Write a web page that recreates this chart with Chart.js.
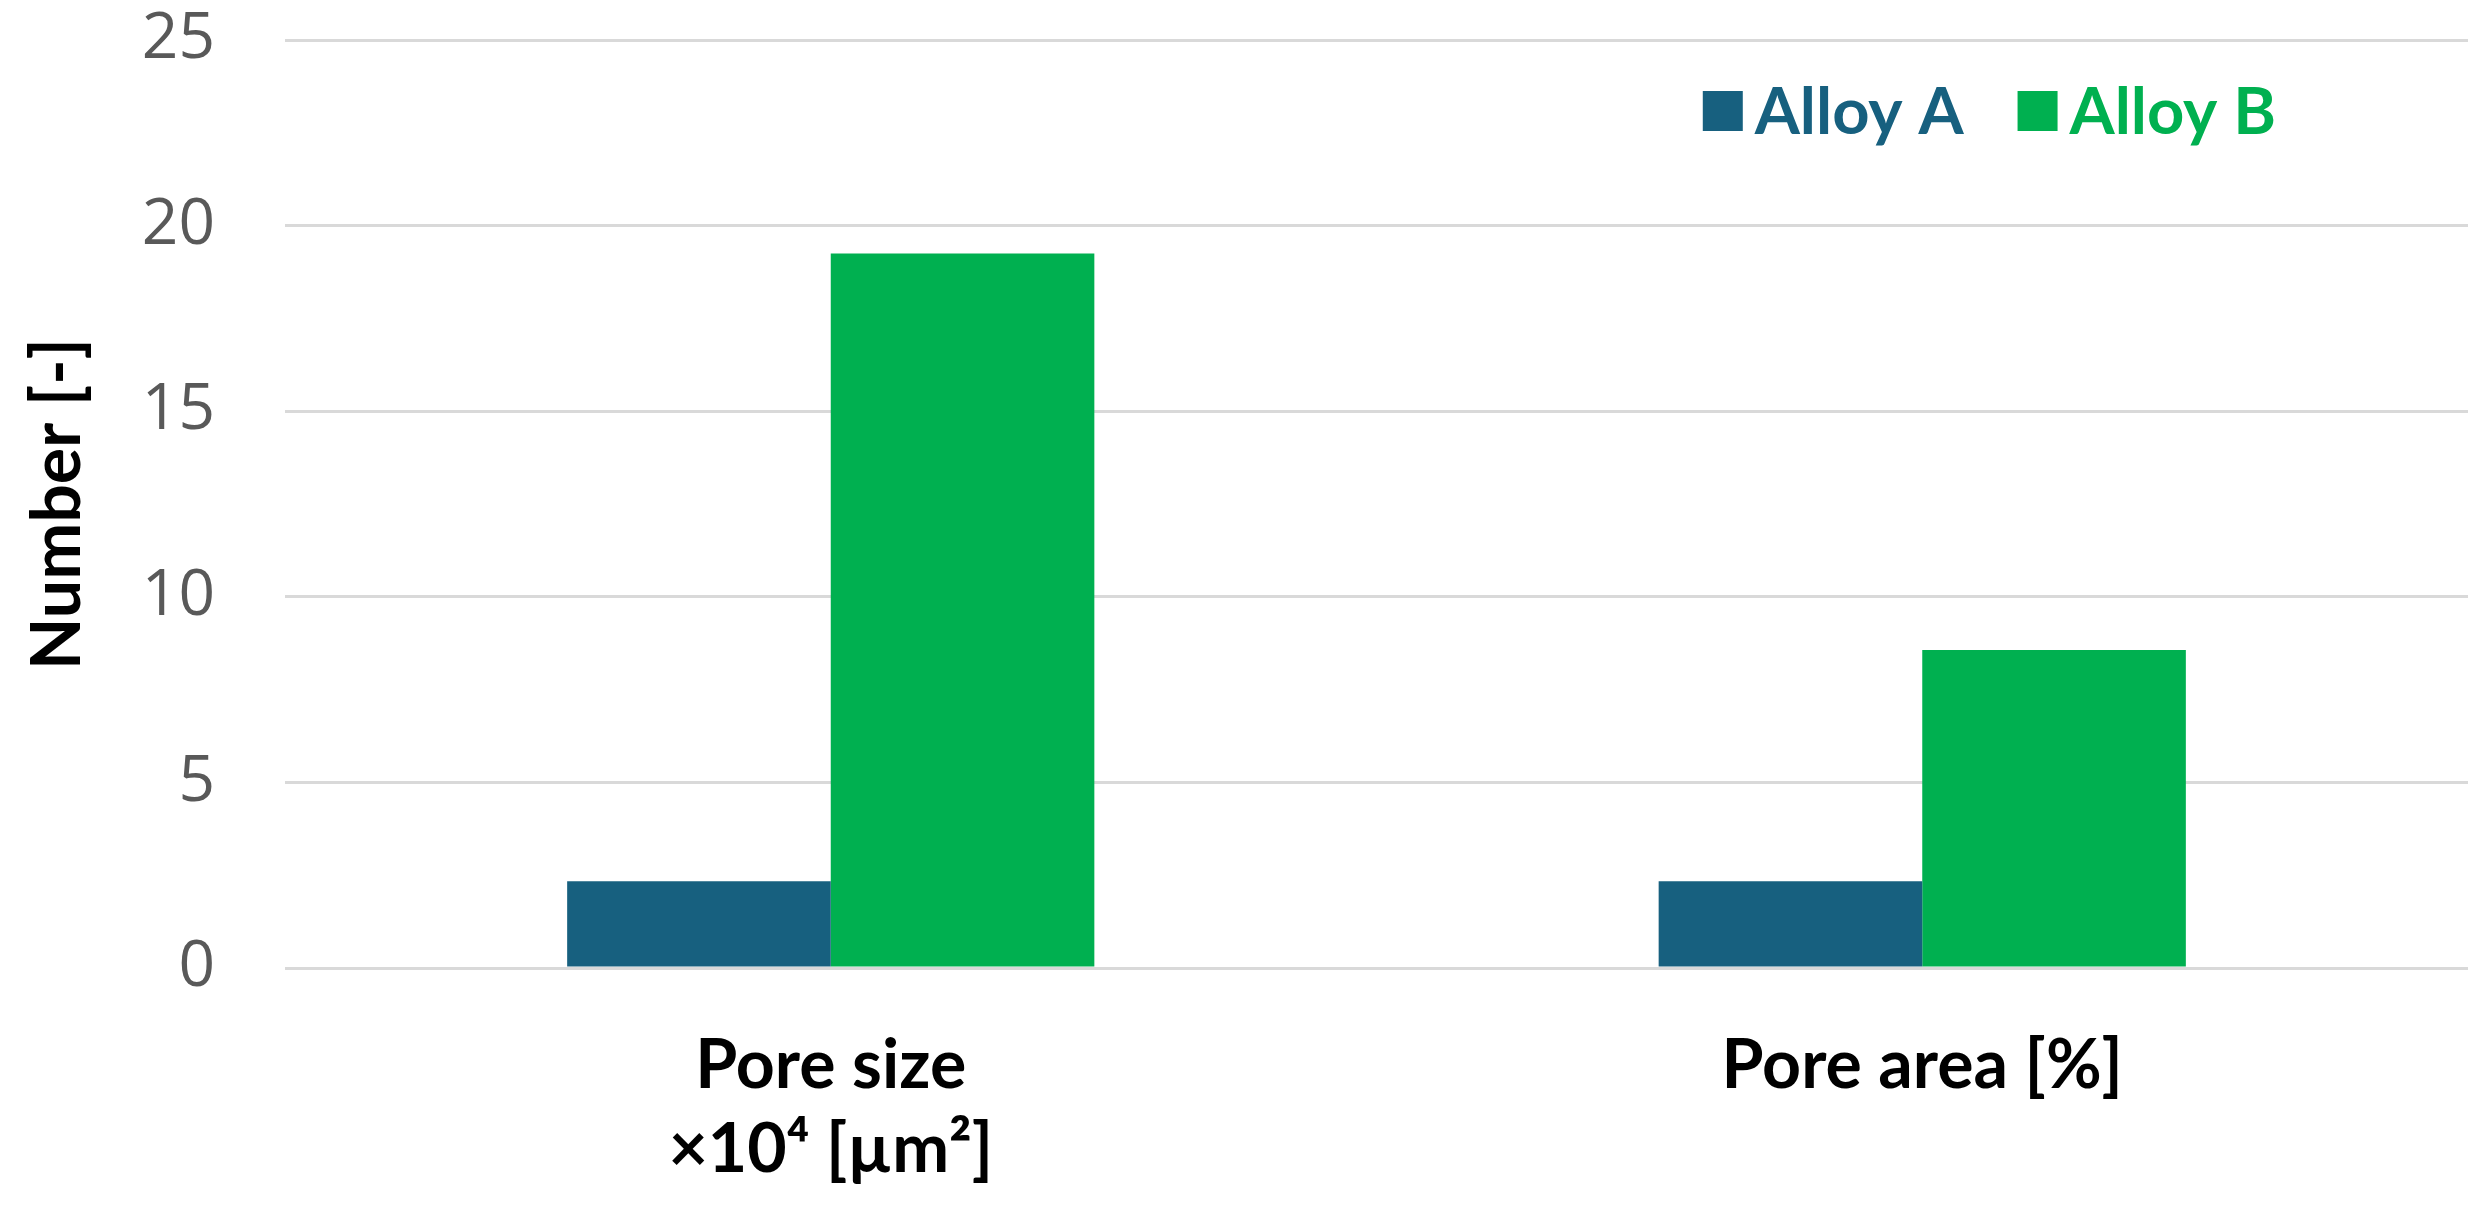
<!DOCTYPE html>
<html>
<head>
<meta charset="utf-8">
<script src="https://cdn.jsdelivr.net/npm/chart.js@4"></script>
<style>
  html, body { margin: 0; padding: 0; background: #ffffff; }
  #wrap { width: 2492px; height: 1213px; }
</style>
</head>
<body>
<div id="wrap"><canvas id="poreChart" width="2492" height="1213"></canvas></div>
<script>
// ---------- Data ----------
const categories = [["Pore size", "\u00d710\u2074 [\u00b5m\u00b2]"], "Pore area [%]"];
const seriesNames = ["Alloy A", "Alloy B"];
const alloyA = [2.34, 2.34];
const alloyB = [19.25, 8.57];
const yTicks = [0, 5, 10, 15, 20, 25];

const colorA = "#17607f";
const colorB = "#00b050";
const boldFont = "Lato, 'Liberation Sans', sans-serif";

// ---------- Legend drawn inside plot, top right ----------
const insideLegend = {
    id: "insideLegend",
    afterDraw(chart) {
        const ctx = chart.ctx;
        const area = chart.chartArea;
        const sets = chart.data.datasets;
        const box = 40, gapText = 12, gapItem = 54;
        ctx.save();
        ctx.font = "bold 65px " + boldFont;
        ctx.textBaseline = "middle";
        ctx.textAlign = "left";
        let widths = sets.map(d => ctx.measureText(d.label).width);
        let total = 0;
        widths.forEach((w, i) => { total += box + gapText + w + (i < widths.length - 1 ? gapItem : 0); });
        let x = area.right - 192 - total;
        const cy = area.top + 71;
        sets.forEach((d, i) => {
            ctx.fillStyle = d.backgroundColor;
            ctx.fillRect(x, cy - box / 2, box, box);
            x += box + gapText;
            ctx.fillText(d.label, x, cy + 2);
            x += widths[i] + gapItem;
        });
        ctx.restore();
    }
};

// ---------- Chart ----------
const ctx = document.getElementById("poreChart");

new Chart(ctx, {
    type: "bar",
    data: {
        labels: categories,
        datasets: [
            {
                label: seriesNames[0],
                data: alloyA,
                backgroundColor: colorA,
                borderWidth: 0,
                categoryPercentage: 0.483,
                barPercentage: 1.0
            },
            {
                label: seriesNames[1],
                data: alloyB,
                backgroundColor: colorB,
                borderWidth: 0,
                categoryPercentage: 0.483,
                barPercentage: 1.0
            }
        ]
    },
    options: {
        responsive: false,
        animation: false,
        devicePixelRatio: 1,
        layout: {
            padding: { top: 40, right: 24, bottom: 0, left: 0 }
        },
        plugins: {
            legend: { display: false },
            tooltip: { enabled: false }
        },
        scales: {
            x: {
                grid: { display: false },
                border: { display: false },
                ticks: {
                    color: "#000000",
                    padding: 48,
                    font: { family: boldFont, size: 68, weight: "bold", lineHeight: 1.24 },
                    maxRotation: 0,
                    autoSkip: false
                },
                afterFit(scale) { scale.height = 245; }
            },
            y: {
                min: 0,
                max: 25,
                afterBuildTicks(scale) { scale.ticks = yTicks.map(v => ({ value: v })); },
                grid: { color: "#d9d9d9", lineWidth: 3, drawTicks: false },
                border: { display: false },
                ticks: {
                    color: "#595959",
                    padding: 70,
                    font: { family: "'Open Sans', sans-serif", size: 64 }
                },
                title: {
                    display: true,
                    text: "Number [-]",
                    color: "#000000",
                    padding: { top: 24, bottom: 0 },
                    font: { family: boldFont, size: 68, weight: "bold", lineHeight: 1 }
                },
                afterFit(scale) {
                    scale.width = 285;
                    scale.paddingTop = 36;
                    scale.paddingBottom = 0;
                }
            }
        }
    },
    plugins: [insideLegend]
});
</script>
</body>
</html>
